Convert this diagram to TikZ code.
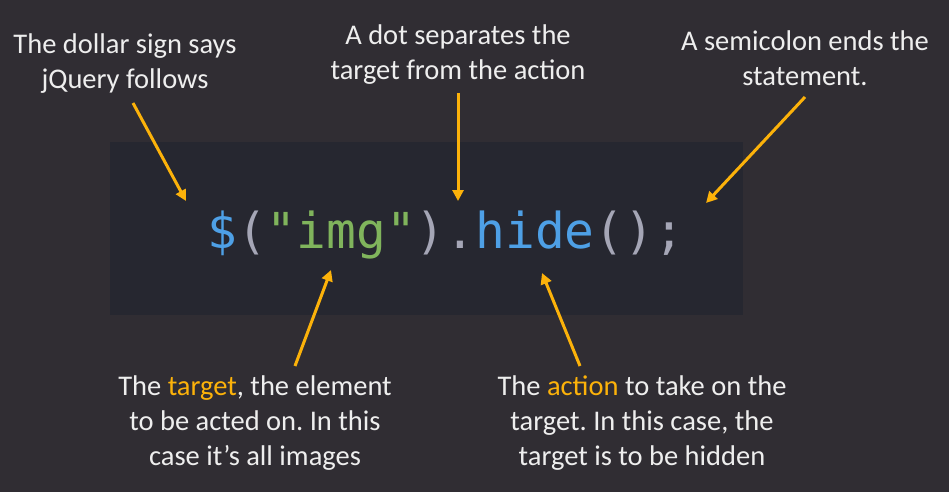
\documentclass[tikz,border=0pt]{standalone}
\usepackage{fontspec}
\setmainfont{Carlito}
\newfontfamily\codefont{DejaVu Sans Mono}
\usetikzlibrary{arrows.meta}
\frenchspacing
\definecolor{bgdark}{RGB}{48,45,51}
\definecolor{panel}{RGB}{38,39,48}
\definecolor{accent}{RGB}{252,178,10}
\definecolor{labeltext}{RGB}{238,238,238}
\definecolor{codeblue}{RGB}{78,160,230}
\definecolor{codegreen}{RGB}{128,180,92}
\definecolor{codegrey}{RGB}{165,166,182}
\tikzset{
  note/.style={text=labeltext, font=\fontsize{28.5}{35}\selectfont, align=center, inner sep=0pt},
  pointer/.style={draw=accent, line width=3pt, -{Triangle[length=11pt,width=11pt]}},
}
\newcommand{\hl}[1]{\textcolor{accent}{#1}}
\begin{document}
\begin{tikzpicture}[x=1pt,y=-1pt]
  \fill[bgdark] (0,0) rectangle (949,492);
  \useasboundingbox (0,0) rectangle (949,492);
  \fill[panel] (110,142) rectangle (743,315);

  % the jQuery statement
  \node[anchor=base west, inner sep=0pt, font=\codefont\fontsize{49.5}{49.5}\selectfont] (code) at (207,248)
    {\textcolor{codeblue}{\$}\textcolor{codegrey}{(}\textcolor{codegreen}{"img"}\textcolor{codegrey}{).}\textcolor{codeblue}{hide}\textcolor{codegrey}{();}};

  % callout texts
  \node[note] (dollar) at (125,64) {The dollar sign says\\jQuery follows};
  \node[note] (dot) at (458,55) {A dot separates the\\target from the action};
  \node[note] (semi) at (805,58) {A semicolon ends the\\statement.};
  \node[note] (target) at (255,423) {The \hl{target}, the element\\to be acted on. In this\\case it’s all images};
  \node[note] (action) at (642,423) {The \hl{action} to take on the\\target. In this case, the\\target is to be hidden};

  % arrow ends
  \coordinate (d0) at (133,103);  \coordinate (d1) at (186,201);
  \coordinate (p0) at (458,93);   \coordinate (p1) at (458,201);
  \coordinate (s0) at (805,97);   \coordinate (s1) at (706,203);
  \coordinate (t0) at (295,366);  \coordinate (t1) at (331,270);
  \coordinate (a0) at (580,366);  \coordinate (a1) at (542,273);

  \draw[pointer] (d0) -- (d1);
  \draw[pointer] (p0) -- (p1);
  \draw[pointer] (s0) -- (s1);
  \draw[pointer] (t0) -- (t1);
  \draw[pointer] (a0) -- (a1);
\end{tikzpicture}
\end{document}
